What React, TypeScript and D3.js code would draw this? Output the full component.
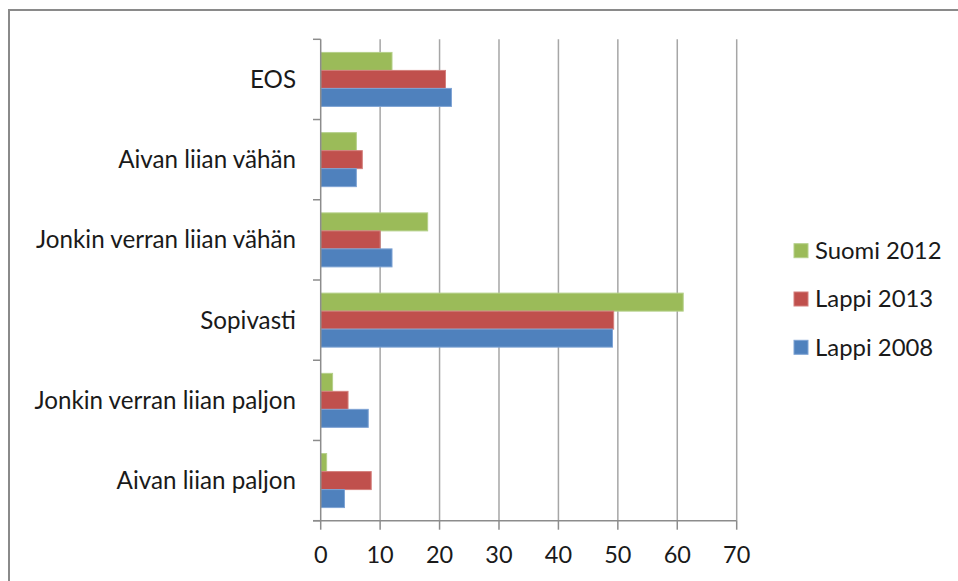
import React from "react";
import * as d3 from "d3";

const categories = [
  "EOS",
  "Aivan liian vähän",
  "Jonkin verran liian vähän",
  "Sopivasti",
  "Jonkin verran liian paljon",
  "Aivan liian paljon",
];
const seriesNames = ["Suomi 2012", "Lappi 2013", "Lappi 2008"];
const suomi2012 = [12, 6, 18, 61, 2, 1];
const lappi2013 = [21, 7, 10, 49.3, 4.6, 8.5];
const lappi2008 = [22, 6, 12, 49.1, 8, 4];
const xTicks = [0, 10, 20, 30, 40, 50, 60, 70];
const colors = ["#9BBB59", "#C0504D", "#4F81BD"];
const strokes = ["#b5d08a", "#d47f7c", "#7ea3d4"];

const W = 958;
const H = 581;
const FONT = "Lato, 'Open Sans', sans-serif";

export default function App() {
  const series = [suomi2012, lappi2013, lappi2008];
  const x = d3.scaleLinear().domain([0, 70]).range([320.7, 736.7]);
  const y = d3.scaleBand<string>().domain(categories).range([39.3, 520.7]).paddingInner(0).paddingOuter(0);
  const bw = y.bandwidth();
  const barH = 18;
  const groupOff = (bw - barH * 3) / 2;
  const inner = d3.scaleBand<string>().domain(seriesNames).range([groupOff, groupOff + barH * 3]);
  const [y0, y1] = y.range();
  const boundaries = d3.range(categories.length + 1).map((i) => y0 + i * bw);

  return (
    <svg width={W} height={H} style={{ position: "absolute", left: 0, top: 0, background: "#fff" }}>
      <rect x={9} y={10} width={1200} height={1200} fill="#fff" stroke="#8a8a8a" strokeWidth={2} />
      {xTicks.slice(1).map((t) => (
        <line key={"g" + t} x1={x(t)} x2={x(t)} y1={y0} y2={y1} stroke="#a6a6a6" strokeWidth={1.5} />
      ))}
      {categories.map((c, ci) =>
        series.map((s, si) => (
          <rect
            key={c + si}
            x={x(0)}
            y={(y(c) as number) + (inner(seriesNames[si]) as number)}
            width={x(s[ci]) - x(0)}
            height={inner.bandwidth()}
            fill={colors[si]}
            stroke={strokes[si]}
            strokeWidth={1}
          />
        ))
      )}
      <line x1={x(0)} x2={x(0)} y1={y0} y2={y1} stroke="#8c8c8c" strokeWidth={1.5} />
      {boundaries.map((b, i) => (
        <line key={"lt" + i} x1={313} x2={x(0)} y1={b} y2={b} stroke="#8c8c8c" strokeWidth={1.5} />
      ))}
      <line x1={313} x2={x(70)} y1={y1} y2={y1} stroke="#8c8c8c" strokeWidth={1.5} />
      {xTicks.map((t) => (
        <line key={"bt" + t} x1={x(t)} x2={x(t)} y1={y1} y2={y1 + 9} stroke="#8c8c8c" strokeWidth={1.5} />
      ))}
      {xTicks.map((t) => (
        <text key={"xl" + t} x={x(t)} y={563} textAnchor="middle" fontFamily={FONT} fontSize={23.5} fill="#1a1a1a">
          {t}
        </text>
      ))}
      {categories.map((c) => (
        <text
          key={"yl" + c}
          x={296}
          y={(y(c) as number) + bw / 2}
          dy="0.35em"
          textAnchor="end"
          fontFamily={FONT}
          fontSize={24.2}
          fill="#1a1a1a"
        >
          {c}
        </text>
      ))}
      {seriesNames.map((n, i) => (
        <g key={"lg" + n} transform={`translate(794,${250.7 + i * 48.3})`}>
          <rect x={0} y={-7} width={14} height={14} fill={colors[i]} stroke={strokes[i]} strokeWidth={1} />
          <text x={21} y={0} dy="0.35em" fontFamily={FONT} fontSize={23.9} fill="#1a1a1a">
            {n}
          </text>
        </g>
      ))}
    </svg>
  );
}
